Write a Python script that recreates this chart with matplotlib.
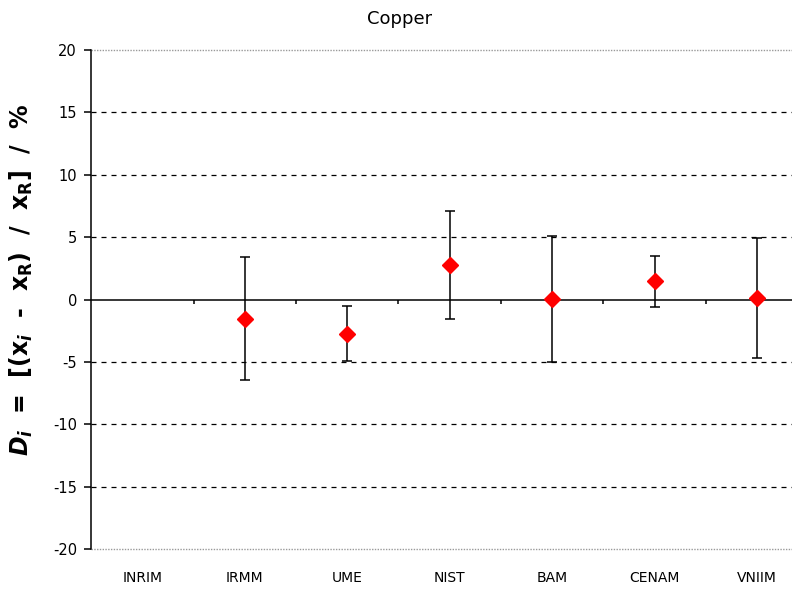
import matplotlib.pyplot as plt
import numpy as np

# data
labs = ["INRIM", "IRMM", "UME", "NIST", "BAM", "CENAM", "VNIIM"]
di = [np.nan, -1.55, -2.75, 2.77, 0.03, 1.47, 0.12]
unc = [np.nan, 4.94, 2.2, 4.33, 5.08, 2.05, 4.8]
yticks = [-20, -15, -10, -5, 0, 5, 10, 15, 20]

fig = plt.figure(figsize=(7.92, 5.89), dpi=100)
ax = fig.add_axes([91/792, 1-549/589, (808.5-91)/792, (549-50)/589])

x = np.arange(len(labs))
ax.set_xlim(-0.5, len(labs)-0.5)
ax.set_ylim(-20, 20)

# grid lines
for v in yticks:
    if v in (-20, 20):
        ax.axhline(v, color="#999999", lw=1.0, ls=(0, (1, 1)), zorder=1, clip_on=False)
    elif v == 0:
        ax.axhline(v, color="black", lw=1.1, zorder=2)
    else:
        ax.axhline(v, color="black", lw=0.9, ls=(0, (4, 4)), zorder=1)

# category separator ticks on the zero line
ax.vlines(x[:-1]+0.5, -0.4, 0, color="black", lw=1.1, zorder=2)

ax.errorbar(x, di, yerr=unc, fmt="none", ecolor="black", elinewidth=1.1,
            capsize=3.6, capthick=1.1, zorder=3)
ax.plot(x, di, ls="none", marker="D", ms=8, color="red", mec="red", zorder=4)

for s in ["top", "right", "bottom"]:
    ax.spines[s].set_visible(False)
ax.spines["left"].set_linewidth(1.1)

ax.set_yticks(yticks)
ax.set_yticklabels([str(v) for v in yticks], fontsize=10.5)
ax.tick_params(axis="y", length=5, width=1.1, pad=5)
ax.set_xticks(x)
ax.set_xticklabels(labs, fontsize=10)
ax.tick_params(axis="x", length=0, pad=16)

ax.set_ylabel(r"$\mathbfit{D_i}$  =  [(x$_\mathbfit{i}$  -  x$_\mathbf{R}$)  /  x$_\mathbf{R}$]  /  %",
              fontsize=17, fontweight="bold")
ax.yaxis.set_label_coords(-0.078, 0.54)
ax.set_title("Copper", fontsize=13, pad=19, x=(400-91)/(808.5-91))

fig.savefig("out.png", dpi=100)
